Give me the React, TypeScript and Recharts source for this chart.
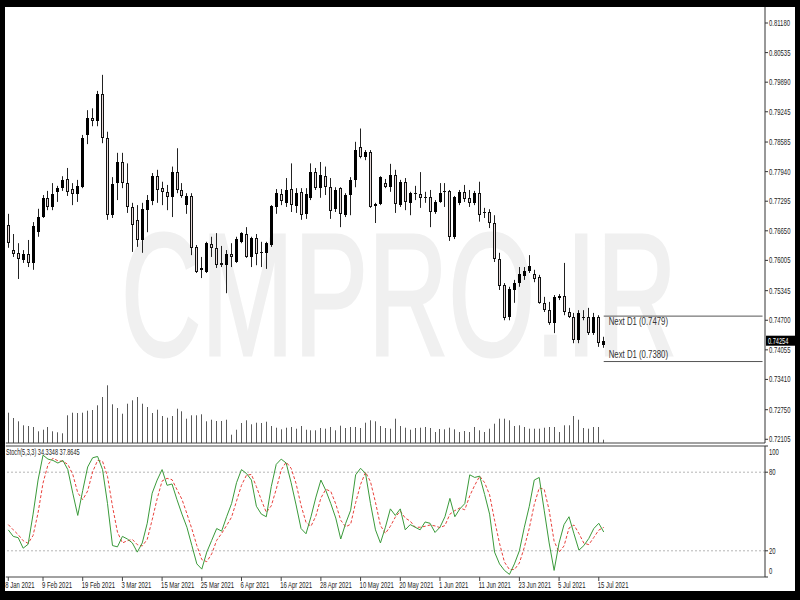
import React from 'react';
import { ComposedChart, Bar, Line, XAxis, YAxis, ReferenceLine } from 'recharts';

// daily bars, oldest first
const OPEN = [
  0.7678, 0.7623, 0.7617, 0.7601, 0.7614, 0.7595, 0.7662, 0.7695, 0.7737, 0.7717,
  0.7750, 0.7758, 0.7778, 0.7756, 0.7745, 0.7760, 0.7874, 0.7910, 0.7905, 0.7963,
  0.7867, 0.7699, 0.7769, 0.7815, 0.7769, 0.7717, 0.7689, 0.7645, 0.7710, 0.7730,
  0.7784, 0.7758, 0.7750, 0.7739, 0.7793, 0.7754, 0.7721, 0.7741, 0.7630, 0.7580,
  0.7575, 0.7636, 0.7628, 0.7595, 0.7590, 0.7614, 0.7597, 0.7641, 0.7658, 0.7608,
  0.7649, 0.7619, 0.7617, 0.7634, 0.7717, 0.7745, 0.7726, 0.7756, 0.7719, 0.7750,
  0.7702, 0.7737, 0.7793, 0.7758, 0.7784, 0.7760, 0.7713, 0.7758, 0.7699, 0.7743,
  0.7776, 0.7847, 0.7825, 0.7837, 0.7719, 0.7723, 0.7769, 0.7760, 0.7787, 0.7721,
  0.7771, 0.7726, 0.7747, 0.7745, 0.7737, 0.7739, 0.7706, 0.7728, 0.7749, 0.7751,
  0.7652, 0.7726, 0.7750, 0.7737, 0.7726, 0.7747, 0.7703, 0.7705, 0.7683, 0.7603,
  0.7547, 0.7477, 0.7536, 0.7551, 0.7566, 0.7577, 0.7571, 0.7564, 0.7508, 0.7492,
  0.7464, 0.7519, 0.7523, 0.7488, 0.7477, 0.7427, 0.7477, 0.7477, 0.7442, 0.7477,
  0.7416,
];
const HIGH = [
  0.7702, 0.7658, 0.7638, 0.7623, 0.7645, 0.7684, 0.7713, 0.7743, 0.7752, 0.7769,
  0.7763, 0.7784, 0.7802, 0.7769, 0.7776, 0.7874, 0.7928, 0.7932, 0.7970, 0.8005,
  0.7881, 0.7782, 0.7835, 0.7835, 0.7812, 0.7726, 0.7721, 0.7726, 0.7743, 0.7791,
  0.7798, 0.7772, 0.7765, 0.7805, 0.7845, 0.7769, 0.7747, 0.7747, 0.7634, 0.7608,
  0.7641, 0.7652, 0.7660, 0.7632, 0.7623, 0.7638, 0.7652, 0.7662, 0.7673, 0.7652,
  0.7658, 0.7641, 0.7641, 0.7721, 0.7756, 0.7756, 0.7780, 0.7812, 0.7758, 0.7758,
  0.7758, 0.7812, 0.7802, 0.7815, 0.7805, 0.7780, 0.7760, 0.7760, 0.7747, 0.7782,
  0.7859, 0.7888, 0.7841, 0.7841, 0.7726, 0.7784, 0.7778, 0.7811, 0.7798, 0.7776,
  0.7780, 0.7750, 0.7763, 0.7793, 0.7750, 0.7754, 0.7732, 0.7769, 0.7769, 0.7754,
  0.7741, 0.7754, 0.7765, 0.7754, 0.7752, 0.7772, 0.7715, 0.7712, 0.7699, 0.7617,
  0.7551, 0.7543, 0.7558, 0.7586, 0.7586, 0.7612, 0.7580, 0.7569, 0.7521, 0.7510,
  0.7525, 0.7527, 0.7595, 0.7497, 0.7486, 0.7492, 0.7492, 0.7497, 0.7486, 0.7481,
  0.7434,
];
const LOW = [
  0.7628, 0.7608, 0.7560, 0.7595, 0.7586, 0.7580, 0.7652, 0.7693, 0.7710, 0.7710,
  0.7728, 0.7752, 0.7741, 0.7721, 0.7728, 0.7758, 0.7854, 0.7893, 0.7893, 0.7856,
  0.7689, 0.7693, 0.7732, 0.7758, 0.7704, 0.7619, 0.7630, 0.7617, 0.7662, 0.7721,
  0.7726, 0.7721, 0.7710, 0.7695, 0.7747, 0.7737, 0.7702, 0.7612, 0.7573, 0.7562,
  0.7573, 0.7608, 0.7584, 0.7586, 0.7529, 0.7586, 0.7595, 0.7638, 0.7606, 0.7586,
  0.7590, 0.7586, 0.7582, 0.7630, 0.7702, 0.7721, 0.7717, 0.7706, 0.7704, 0.7689,
  0.7691, 0.7732, 0.7754, 0.7737, 0.7743, 0.7691, 0.7706, 0.7673, 0.7695, 0.7699,
  0.7760, 0.7823, 0.7819, 0.7715, 0.7682, 0.7721, 0.7758, 0.7750, 0.7704, 0.7717,
  0.7710, 0.7699, 0.7732, 0.7715, 0.7726, 0.7673, 0.7702, 0.7726, 0.7717, 0.7643,
  0.7647, 0.7721, 0.7728, 0.7717, 0.7721, 0.7685, 0.7693, 0.7671, 0.7597, 0.7536,
  0.7470, 0.7470, 0.7508, 0.7543, 0.7558, 0.7573, 0.7553, 0.7506, 0.7488, 0.7460,
  0.7442, 0.7514, 0.7481, 0.7475, 0.7420, 0.7420, 0.7470, 0.7438, 0.7438, 0.7412,
  0.7410,
];
const CLOSE = [
  0.7638, 0.7614, 0.7604, 0.7614, 0.7595, 0.7675, 0.7695, 0.7737, 0.7717, 0.7745,
  0.7758, 0.7776, 0.7750, 0.7745, 0.7763, 0.7867, 0.7910, 0.7905, 0.7963, 0.7867,
  0.7699, 0.7767, 0.7815, 0.7769, 0.7717, 0.7678, 0.7645, 0.7713, 0.7732, 0.7784,
  0.7754, 0.7750, 0.7739, 0.7793, 0.7754, 0.7741, 0.7741, 0.7628, 0.7575, 0.7584,
  0.7638, 0.7628, 0.7590, 0.7590, 0.7614, 0.7608, 0.7647, 0.7660, 0.7608, 0.7649,
  0.7614, 0.7617, 0.7638, 0.7719, 0.7747, 0.7730, 0.7754, 0.7721, 0.7747, 0.7699,
  0.7745, 0.7793, 0.7758, 0.7787, 0.7760, 0.7708, 0.7754, 0.7702, 0.7743, 0.7776,
  0.7841, 0.7825, 0.7837, 0.7717, 0.7723, 0.7782, 0.7760, 0.7787, 0.7723, 0.7771,
  0.7728, 0.7747, 0.7745, 0.7737, 0.7739, 0.7706, 0.7728, 0.7747, 0.7751, 0.7652,
  0.7739, 0.7750, 0.7734, 0.7726, 0.7747, 0.7699, 0.7705, 0.7683, 0.7603, 0.7545,
  0.7475, 0.7538, 0.7551, 0.7571, 0.7577, 0.7588, 0.7560, 0.7508, 0.7492, 0.7464,
  0.7521, 0.7523, 0.7488, 0.7477, 0.7427, 0.7486, 0.7475, 0.7442, 0.7477, 0.7420,
  0.74254,
];
// tick volume
const VOLUME = [
  30300, 25000, 21700, 17700, 17000, 16000, 11700, 13300, 16000, 11700,
  10700, 9700, 27700, 30300, 30000, 30300, 32300, 33000, 37700, 46000,
  57700, 38700, 35000, 29300, 39300, 42700, 46000, 39300, 36000, 30000,
  33300, 27000, 25300, 27000, 34300, 31700, 24300, 27700, 27700, 28700,
  21700, 23300, 22000, 22000, 23300, 8300, 13300, 20000, 22700, 18700,
  20300, 20000, 21300, 17000, 15300, 13700, 15300, 16000, 14300, 17000,
  13300, 12700, 12700, 15000, 14300, 16000, 12700, 17300, 15000, 16000,
  16000, 15000, 20300, 22700, 21700, 17000, 15000, 14300, 24300, 17000,
  15300, 13300, 15000, 15300, 16000, 15000, 11000, 14000, 13700, 15300,
  13700, 11000, 12000, 11000, 16000, 12700, 11000, 14300, 19300, 24300,
  24300, 22700, 17000, 17700, 16000, 14300, 14300, 14300, 15300, 16000,
  16000, 11000, 17700, 17700, 27000, 23300, 15000, 14300, 16000, 16000,
  3300,
];
// Stoch(5,3,3)
const STOCH_K = [
  36, 31, 30, 22, 25, 48, 74, 93, 90, 89,
  87, 89, 82, 64, 47, 66, 84, 91, 92, 82,
  56, 24, 23, 31, 29, 26, 19, 26, 41, 64,
  74, 82, 70, 71, 59, 48, 38, 24, 10, 6,
  19, 28, 37, 35, 46, 56, 72, 82, 79, 74,
  54, 48, 46, 69, 86, 90, 87, 72, 55, 37,
  33, 46, 61, 74, 66, 56, 45, 29, 41, 51,
  78, 83, 79, 56, 36, 26, 38, 52, 47, 52,
  36, 40, 38, 36, 42, 41, 34, 38, 46, 60,
  46, 52, 56, 78, 76, 77, 63, 48, 19, 10,
  5, 2, 10, 20, 38, 54, 74, 76, 51, 26,
  5, 26, 40, 46, 33, 20.5, 24, 29.5, 37, 41,
  34.3348,
];
const STOCH_D = [
  40, 36, 32.3, 27.7, 25.7, 31.7, 49, 71.7, 85.7, 90.7,
  88.7, 88.3, 86, 78.3, 64.3, 59, 65.7, 80.3, 89, 88.3,
  76.7, 54, 34.3, 26, 27.7, 28.7, 24.7, 23.7, 28.7, 43.7,
  59.7, 73.3, 75.3, 74.3, 66.7, 59.3, 48.3, 36.7, 24, 13.3,
  11.7, 17.7, 28, 33.3, 39.3, 45.7, 58, 70, 77.7, 78.3,
  69, 58.7, 49.3, 54.3, 67, 81.7, 87.7, 83, 71.3, 54.7,
  41.7, 38.7, 46.7, 60.3, 67, 65.3, 55.7, 43.3, 38.3, 40.3,
  56.7, 70.7, 80, 72.7, 57, 39.3, 33.3, 38.7, 45.7, 50.3,
  45, 42.7, 38, 38, 38.7, 39.7, 39, 37.7, 39.3, 48,
  50.7, 52.7, 51.3, 62, 70, 77, 72, 62.7, 43.3, 25.7,
  11.3, 5.7, 5.7, 10.7, 22.7, 37.3, 55.3, 68, 67, 51,
  27.3, 19, 23.7, 37.3, 39.7, 33.2, 25.8, 24.7, 30.2, 35.8,
  37.8645,
];

const PRICE_TICKS = [
  0.81180, 0.80535, 0.79890, 0.79245, 0.78585, 0.77940, 0.77295, 0.76650,
  0.76005, 0.75345, 0.74700, 0.74055, 0.73410, 0.72750, 0.72105,
];
const STOCH_TICKS = [0, 20, 80, 100];
const TICK_BARS = [0, 7, 15, 23, 31, 39, 47, 55, 63, 71, 79, 87, 95, 103, 111, 119];
const TICK_DATES = [
  '8 Jan 2021', '9 Feb 2021', '19 Feb 2021', '3 Mar 2021', '15 Mar 2021', '25 Mar 2021',
  '6 Apr 2021', '16 Apr 2021', '28 Apr 2021', '10 May 2021', '20 May 2021', '1 Jun 2021',
  '11 Jun 2021', '23 Jun 2021', '5 Jul 2021', '15 Jul 2021',
];
const NEXT_HIGH = 0.7479;
const NEXT_LOW = 0.7380;

const PRICE_MIN = 0.72024;
const PRICE_MAX = 0.81529;
const VOL_MAX = 436000;
const SLOTS = 153; // bars + empty chart shift on the right

const FONT = '"Liberation Sans", Arial, sans-serif';
const INK = '#222';

const rows = Array.from({ length: SLOTS }, (_, i) => ({
  i,
  o: OPEN[i],
  h: HIGH[i],
  l: LOW[i],
  c: CLOSE[i],
  range: i < OPEN.length ? [LOW[i], HIGH[i]] : null,
  v: VOLUME[i],
  k: STOCH_K[i],
  d: STOCH_D[i],
}));

function Narrow({ x, y, size = 9, sx = 0.66, fill = INK, children }: any) {
  return (
    <text
      transform={`translate(${x},${y}) scale(${sx},1)`}
      fontSize={size}
      fontFamily={FONT}
      fill={fill}
    >
      {children}
    </text>
  );
}

function Candle(props: any) {
  const { x, y, width, height, payload } = props;
  if (!payload || payload.o == null) return <g />;
  const { o, h, l, c } = payload;
  const top = Math.min(y, y + height);
  const bot = Math.max(y, y + height);
  const k = (bot - top) / (h - l || 1);
  const py = (v: number) => top + (h - v) * k;
  const cx = Math.floor(x + width / 2);
  const bTop = Math.round(py(Math.max(o, c)));
  const bBot = Math.round(py(Math.min(o, c)));
  const bull = c >= o;
  let body;
  if (bBot - bTop < 2) {
    body = <rect x={cx - 1} y={bTop} width={3} height={1} fill="#111" />;
  } else if (bull) {
    body = <rect x={cx - 1} y={bTop} width={3} height={bBot - bTop} fill="#000" />;
  } else {
    body = (
      <rect x={cx - 0.5} y={bTop + 0.5} width={2} height={bBot - bTop - 1}
        fill="#e6d9d9" stroke="#111" strokeWidth={1} />
    );
  }
  return (
    <g>
      <rect x={cx} y={top} width={1} height={Math.max(bot - top, 1)} fill="#222" />
      {body}
    </g>
  );
}

function VolBar(props: any) {
  const { x, y, width, height } = props;
  if (!height) return <g />;
  return <rect x={Math.floor(x + width / 2)} y={y} width={1} height={height} fill="#5a5a5a" />;
}

function PriceTick({ x, y, payload }: any) {
  return <Narrow x={x} y={y + 3}>{payload.value.toFixed(5)}</Narrow>;
}

function StochTick({ x, y, payload }: any) {
  const v = payload.value;
  const dy = v === 100 ? 6 : v === 0 ? -6 : 0;
  return <Narrow x={x} y={y + dy + 3}>{v}</Narrow>;
}

function DateTick({ x, y, payload }: any) {
  const idx = TICK_BARS.indexOf(payload.value);
  return (
    <g>
      <line x1={x} x2={x} y1={y} y2={y + 4} stroke="#444" />
      <Narrow x={idx === 0 ? x - 3 : x - 1} y={y + 11}>{TICK_DATES[idx]}</Narrow>
    </g>
  );
}

const lastPrice = CLOSE[CLOSE.length - 1];

function PriceTag(props: any) {
  const vb = props.viewBox;
  if (!vb) return null;
  const X = vb.x + vb.width + 1;
  return (
    <g>
      <rect x={X} y={vb.y - 5} width={29} height={10} fill="#000" />
      <Narrow x={X + 2} y={vb.y + 3} size={8.5} fill="#fff">{lastPrice.toFixed(5)}</Narrow>
    </g>
  );
}

const nextLabel = (value: number, below: boolean) => (props: any) => {
  const vb = props.viewBox;
  if (!vb) return null;
  return (
    <Narrow x={vb.x + 5} y={below ? vb.y + 9 : vb.y - 4} size={10} sx={0.78} fill="#333">
      {`Next D1 (${value.toFixed(4)})`}
    </Narrow>
  );
};

export default function App() {
  const lastBar = OPEN.length - 1;
  return (
    <div style={{ position: 'absolute', left: 0, top: 0, width: 800, height: 600, background: '#000' }}>
      <div style={{ position: 'absolute', left: 5, top: 7, width: 790, height: 584, background: '#fff' }} />

      {/* watermark */}
      <svg width={800} height={600} style={{ position: 'absolute', left: 0, top: 0 }}>
        <text x={121} y={355} fontSize={174} fontFamily={FONT} fill="#f0f0f0"
          stroke="#f0f0f0" strokeWidth={3} textLength={556} lengthAdjust="spacingAndGlyphs">
          CMPRO.IR
        </text>
      </svg>

      {/* price + volume */}
      <div style={{ position: 'absolute', left: 0, top: 0 }}>
        <ComposedChart width={800} height={444} data={rows}
          margin={{ top: 7, right: 0, bottom: 1, left: 5.8 }}>
          <XAxis xAxisId="a" dataKey="i" hide />
          <XAxis xAxisId="vx" dataKey="i" hide />
          <YAxis yAxisId="p" orientation="right" width={35} domain={[PRICE_MIN, PRICE_MAX]}
            allowDataOverflow ticks={PRICE_TICKS} interval={0} tickSize={3} tickMargin={1}
            tick={<PriceTick />} axisLine={{ stroke: '#333' }} tickLine={{ stroke: '#333' }} />
          <YAxis yAxisId="vol" hide domain={[0, VOL_MAX]} allowDataOverflow />
          <Bar xAxisId="vx" yAxisId="vol" dataKey="v" shape={<VolBar />} isAnimationActive={false} />
          <Bar xAxisId="a" yAxisId="p" dataKey="range" barSize={3} shape={<Candle />} isAnimationActive={false} />
          <ReferenceLine xAxisId="a" yAxisId="p" y={PRICE_MIN} stroke="#444" />
          <ReferenceLine xAxisId="a" yAxisId="p" stroke="#555"
            segment={[{ x: lastBar, y: NEXT_HIGH }, { x: SLOTS - 1, y: NEXT_HIGH }]}
            label={{ content: nextLabel(NEXT_HIGH, true) }} />
          <ReferenceLine xAxisId="a" yAxisId="p" stroke="#555"
            segment={[{ x: lastBar, y: NEXT_LOW }, { x: SLOTS - 1, y: NEXT_LOW }]}
            label={{ content: nextLabel(NEXT_LOW, false) }} />
          <ReferenceLine xAxisId="a" yAxisId="p" y={lastPrice} stroke="none"
            label={{ content: PriceTag }} />
        </ComposedChart>
      </div>

      {/* stochastic */}
      <div style={{ position: 'absolute', left: 0, top: 440 }}>
        <ComposedChart width={800} height={151} data={rows}
          margin={{ top: 6, right: 0, bottom: 0, left: 5.8 }}>
          <XAxis dataKey="i" scale="band" height={14} ticks={TICK_BARS} interval={0}
            tickSize={0} tickMargin={0} tickLine={false} tick={<DateTick />}
            axisLine={{ stroke: '#444' }} />
          <YAxis yAxisId="s" orientation="right" width={35} domain={[0, 100]} allowDataOverflow
            ticks={STOCH_TICKS} interval={0} tickSize={3} tickMargin={1} tick={<StochTick />}
            axisLine={{ stroke: '#333' }} tickLine={{ stroke: '#333' }} />
          <ReferenceLine yAxisId="s" y={100} stroke="#444" />
          <ReferenceLine yAxisId="s" y={80} stroke="#b5b5b5" strokeDasharray="2 2" />
          <ReferenceLine yAxisId="s" y={20} stroke="#b5b5b5" strokeDasharray="2 2" />
          <Line yAxisId="s" dataKey="d" stroke="#e8413c" strokeWidth={1} strokeDasharray="3 2"
            dot={false} activeDot={false} isAnimationActive={false} />
          <Line yAxisId="s" dataKey="k" stroke="#3a9a3a" strokeWidth={1}
            dot={false} activeDot={false} isAnimationActive={false} />
        </ComposedChart>
      </div>

      <svg width={800} height={600} style={{ position: 'absolute', left: 0, top: 0, pointerEvents: 'none' }}>
        <Narrow x={6} y={455} size={9} sx={0.62}>
          {`Stoch(5,3,3) ${STOCH_K[STOCH_K.length - 1].toFixed(4)} ${STOCH_D[STOCH_D.length - 1].toFixed(4)}`}
        </Narrow>
      </svg>
    </div>
  );
}
